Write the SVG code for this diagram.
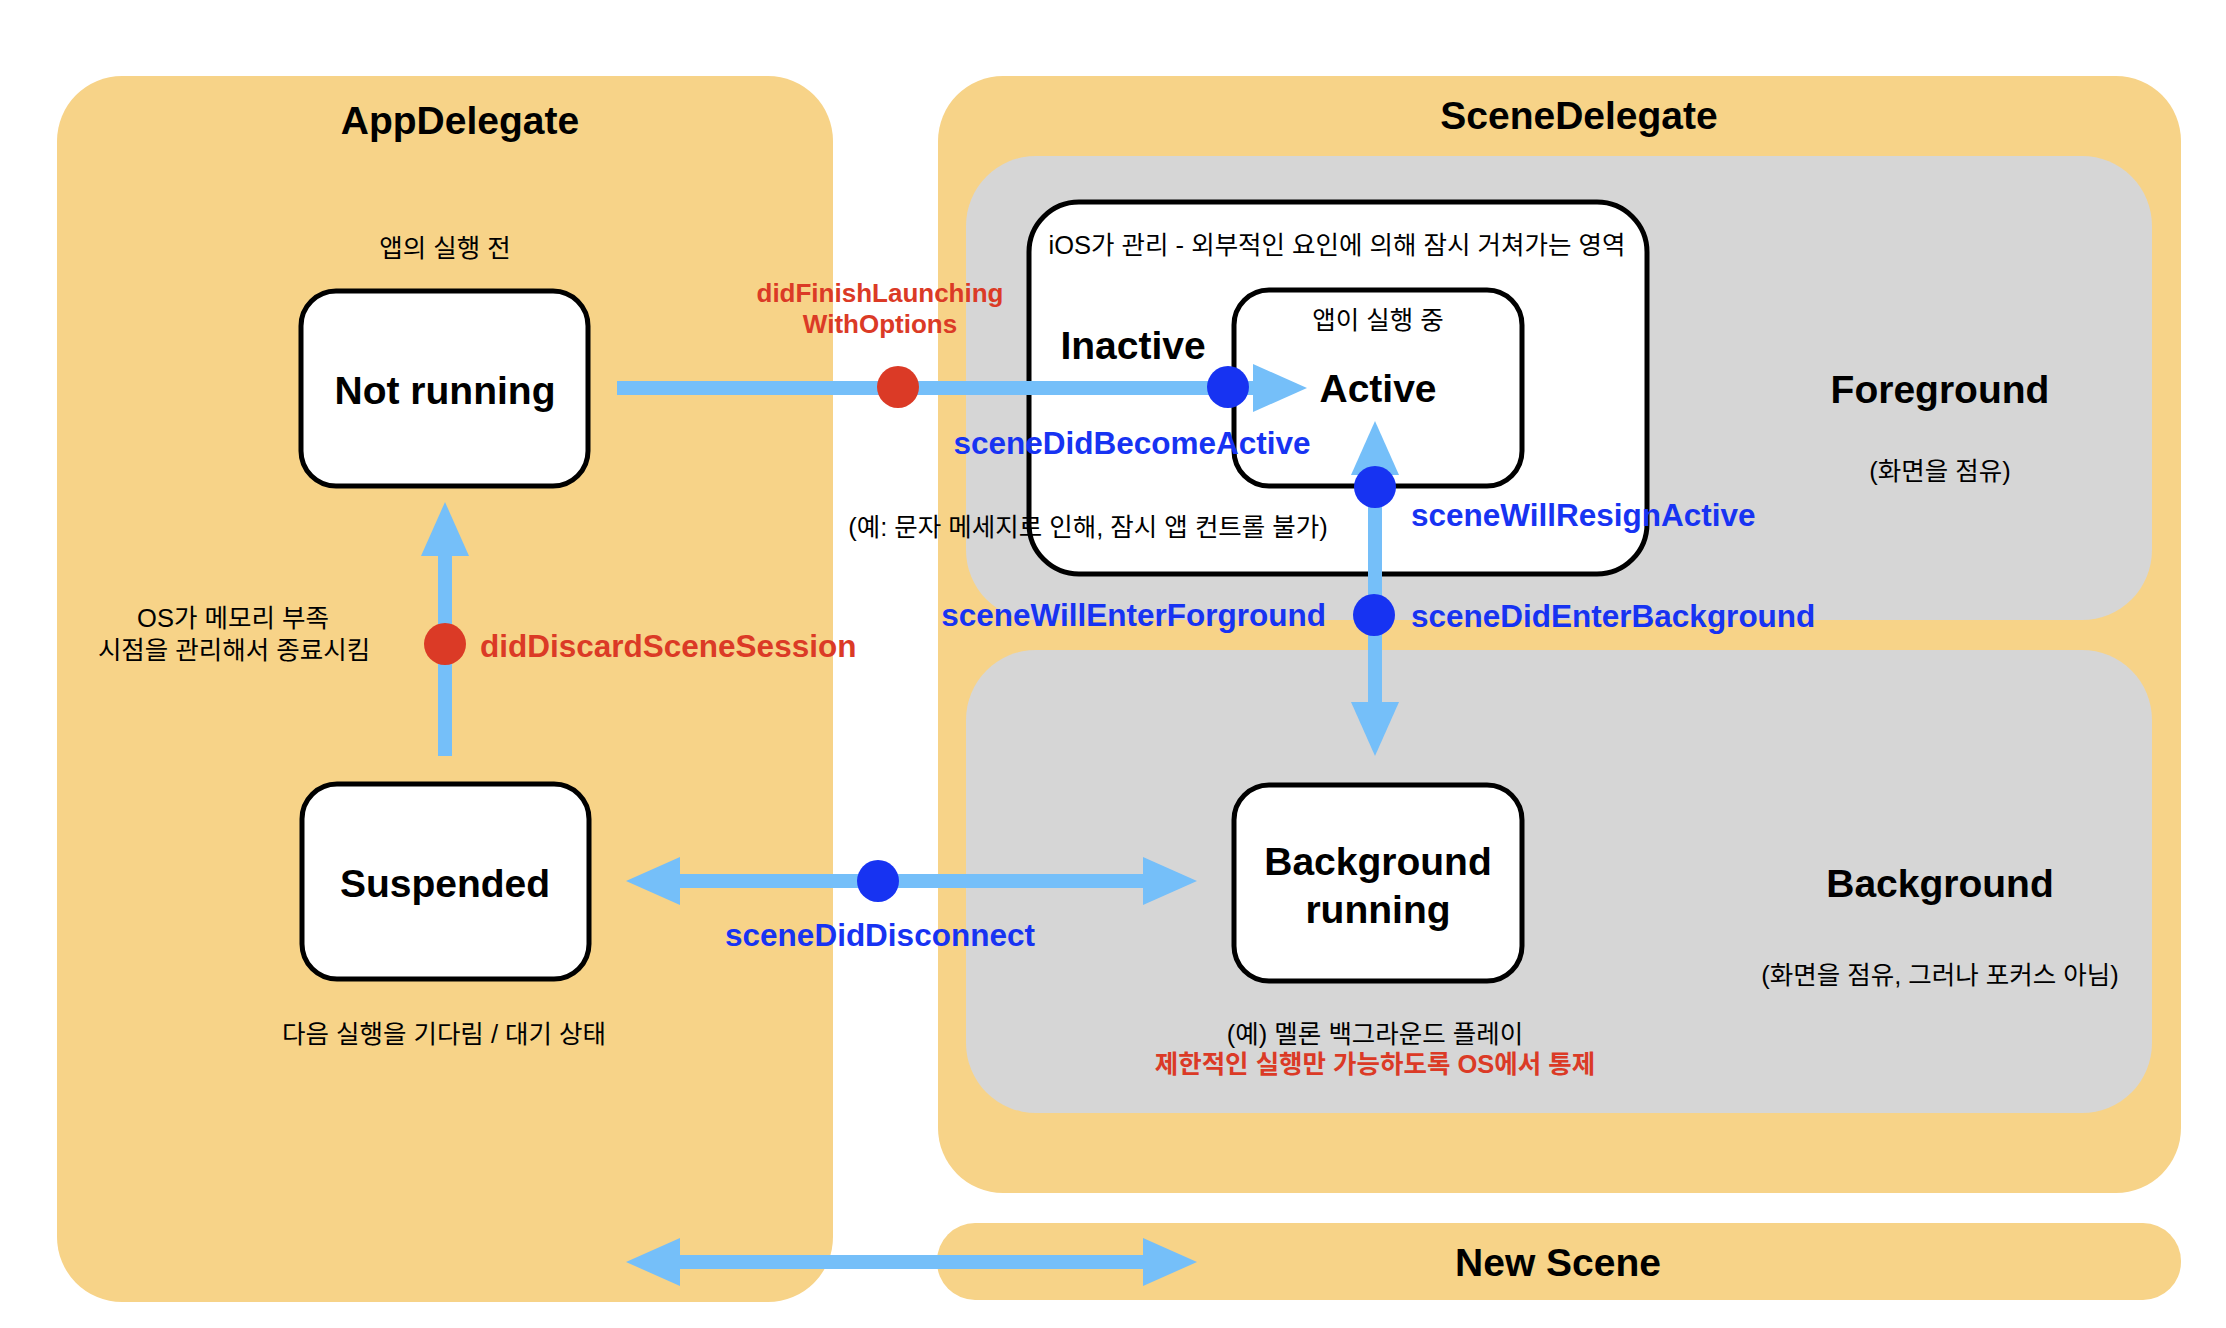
<svg xmlns="http://www.w3.org/2000/svg" width="2226" height="1328" viewBox="0 0 2226 1328">
<defs>
<style>
.panel{fill:#F7D388}
.zone{fill:#D6D6D6}
.state{fill:#FFFFFF;stroke:#000000;stroke-width:5}
.conn{fill:none;stroke:#75BFF9;stroke-width:14}
.dotb{fill:#1733F2}
.dotr{fill:#DB3A26}
.title{font-family:"Liberation Sans",Arial,sans-serif;font-weight:bold;font-size:39px;fill:#000;text-anchor:middle;dominant-baseline:central}
.kr{font-family:"Liberation Sans","Noto Sans CJK KR",sans-serif;font-size:25.5px;fill:#000;text-anchor:middle;dominant-baseline:central}
.krred{font-family:"Liberation Sans","Noto Sans CJK KR",sans-serif;font-weight:bold;font-size:25.5px;fill:#DB3A26;text-anchor:middle;dominant-baseline:central}
.blue{font-family:"Liberation Sans",Arial,sans-serif;font-weight:bold;font-size:31.5px;fill:#1733F2;dominant-baseline:central}
.red{font-family:"Liberation Sans",Arial,sans-serif;font-weight:bold;font-size:31.5px;fill:#DB3A26;dominant-baseline:central}
.red26{font-family:"Liberation Sans",Arial,sans-serif;font-weight:bold;font-size:26px;fill:#DB3A26;text-anchor:middle;dominant-baseline:central}
</style>
<marker id="ah" markerUnits="userSpaceOnUse" markerWidth="54" markerHeight="48" refX="0" refY="24" orient="auto-start-reverse" viewBox="0 0 54 48">
<path d="M0,0 L54,24 L0,48 Z" fill="#75BFF9"/>
</marker>
</defs>
<rect width="2226" height="1328" fill="#FFFFFF"/>

<g id="appdelegate">
<rect class="panel" x="57" y="76" width="776" height="1226" rx="65"/>
<text class="title" x="460" y="120">AppDelegate</text>
</g>

<g id="scenedelegate">
<rect class="panel" x="938" y="76" width="1243" height="1117" rx="65"/>
<text class="title" x="1579" y="115">SceneDelegate</text>
</g>

<g id="foreground">
<rect class="zone" x="966" y="156" width="1186" height="464" rx="70"/>
<text class="title" x="1940" y="389">Foreground</text>
<text class="kr" x="1940" y="471">(화면을 점유)</text>
</g>

<g id="background">
<rect class="zone" x="966" y="650" width="1186" height="463" rx="70"/>
<text class="title" x="1940" y="883">Background</text>
<text class="kr" x="1940" y="975">(화면을 점유, 그러나 포커스 아님)</text>
</g>

<g id="newscene">
<rect class="panel" x="937" y="1223" width="1244" height="77" rx="38"/>
<text class="title" x="1558" y="1262">New Scene</text>
</g>

<g id="inactive">
<rect class="state" x="1029" y="202" width="618" height="372" rx="50"/>
<text class="kr" x="1337" y="245">iOS가 관리 - 외부적인 요인에 의해 잠시 거쳐가는 영역</text>
<text class="title" x="1133" y="345">Inactive</text>
</g>

<g id="active">
<rect class="state" x="1234" y="290" width="288" height="196" rx="35"/>
<text class="kr" x="1378" y="320">앱이 실행 중</text>
<text class="title" x="1378" y="388">Active</text>
</g>

<g id="notrunning">
<text class="kr" x="445" y="248">앱의 실행 전</text>
<rect class="state" x="301" y="291" width="287" height="195" rx="35"/>
<text class="title" x="445" y="390">Not running</text>
</g>

<g id="suspended">
<rect class="state" x="302" y="784" width="287" height="195" rx="35"/>
<text class="title" x="445" y="883">Suspended</text>
<text class="kr" x="444" y="1034">다음 실행을 기다림 / 대기 상태</text>
</g>

<g id="bgrunning">
<rect class="state" x="1234" y="785" width="288" height="196" rx="35"/>
<text class="title" x="1378" y="861">Background</text>
<text class="title" x="1378" y="909">running</text>
<text class="kr" x="1375" y="1034">(예) 멜론 백그라운드 플레이</text>
<text class="krred" x="1375" y="1064">제한적인 실행만 가능하도록 OS에서 통제</text>
</g>

<g id="connectors">
<path class="conn" d="M617,388 H1253" marker-end="url(#ah)"/>
<path class="conn" d="M1375,475 V702" marker-start="url(#ah)" marker-end="url(#ah)"/>
<path class="conn" d="M680,881 H1143" marker-start="url(#ah)" marker-end="url(#ah)"/>
<path class="conn" d="M680,1262 H1143" marker-start="url(#ah)" marker-end="url(#ah)"/>
<path class="conn" d="M445,756 V556" marker-end="url(#ah)"/>
<circle class="dotr" cx="898" cy="387" r="21"/>
<circle class="dotb" cx="1228" cy="387" r="21"/>
<circle class="dotb" cx="1375" cy="487" r="21"/>
<circle class="dotb" cx="1374" cy="615" r="21"/>
<circle class="dotb" cx="878" cy="881" r="21"/>
<circle class="dotr" cx="445" cy="644" r="21"/>
</g>

<g id="labels">
<text class="red26" x="880" y="293">didFinishLaunching</text>
<text class="red26" x="880" y="324">WithOptions</text>
<text class="blue" x="1132" y="443" text-anchor="middle">sceneDidBecomeActive</text>
<text class="kr" x="1088" y="527">(예: 문자 메세지로 인해, 잠시 앱 컨트롤 불가)</text>
<text class="blue" x="1411" y="515">sceneWillResignActive</text>
<text class="blue" x="1326" y="615" text-anchor="end">sceneWillEnterForground</text>
<text class="blue" x="1411" y="616">sceneDidEnterBackground</text>
<text class="blue" x="880" y="935" text-anchor="middle">sceneDidDisconnect</text>
<text class="red" x="480" y="646">didDiscardSceneSession</text>
<text class="kr" x="233" y="618">OS가 메모리 부족</text>
<text class="kr" x="234" y="650">시점을 관리해서 종료시킴</text>
</g>
</svg>
